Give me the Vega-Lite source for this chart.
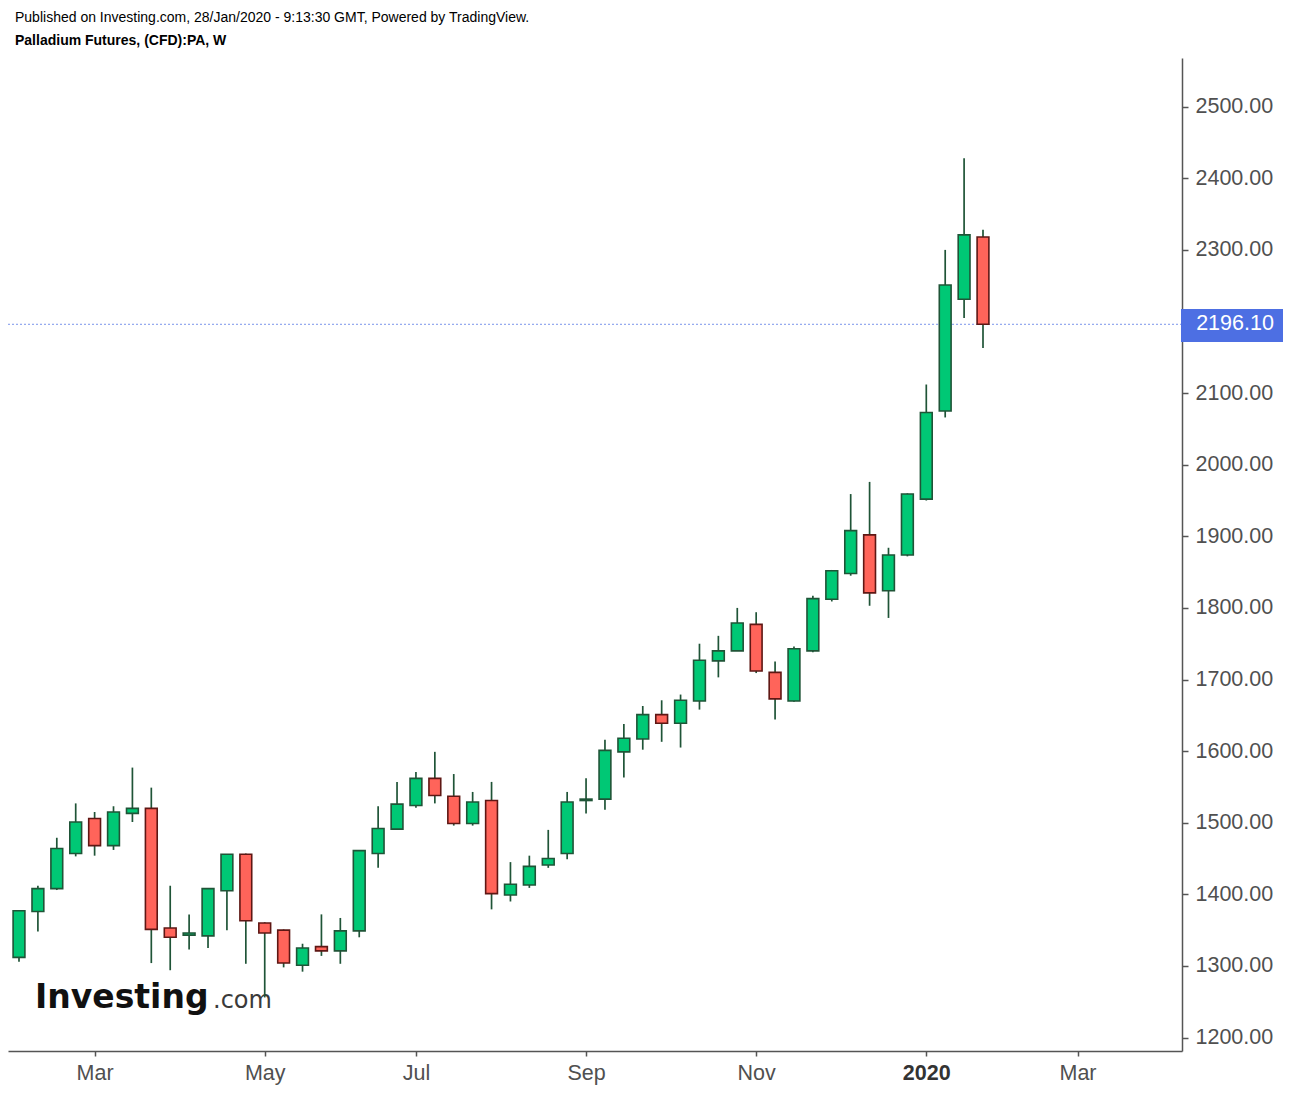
{
  "$schema": "https://vega.github.io/schema/vega-lite/v6.json",
  "autosize": "none",
  "width": 1174,
  "height": 993,
  "padding": {"left": 8, "top": 58, "right": 108, "bottom": 43},
  "background": "#ffffff",
  "config": {"view": {"stroke": null}, "axis": {"grid": false}},
  "title": {
    "text": "Published on Investing.com, 28/Jan/2020 - 9:13:30 GMT, Powered by TradingView.",
    "subtitle": "Palladium Futures, (CFD):PA, W",
    "anchor": "start",
    "frame": "group",
    "font": "Liberation Sans",
    "fontSize": 14,
    "fontWeight": "normal",
    "color": "#000000",
    "subtitleFont": "Liberation Sans",
    "subtitleFontSize": 14,
    "subtitleFontWeight": "bold",
    "subtitleColor": "#000000",
    "subtitlePadding": 9,
    "offset": 10,
    "dx": 7
  },
  "datasets": {
    "candles": [
      {"d": "2019-02-04", "o": 1312, "h": 1378, "l": 1306, "c": 1377},
      {"d": "2019-02-11", "o": 1376, "h": 1412, "l": 1348, "c": 1408},
      {"d": "2019-02-18", "o": 1408, "h": 1479, "l": 1406, "c": 1464},
      {"d": "2019-02-25", "o": 1457, "h": 1527, "l": 1453, "c": 1501},
      {"d": "2019-03-04", "o": 1506, "h": 1515, "l": 1454, "c": 1468},
      {"d": "2019-03-11", "o": 1468, "h": 1523, "l": 1462, "c": 1515},
      {"d": "2019-03-18", "o": 1513, "h": 1577, "l": 1501, "c": 1520},
      {"d": "2019-03-25", "o": 1520, "h": 1549, "l": 1304, "c": 1351},
      {"d": "2019-04-01", "o": 1353, "h": 1412, "l": 1294, "c": 1340},
      {"d": "2019-04-08", "o": 1343, "h": 1372, "l": 1323, "c": 1346},
      {"d": "2019-04-15", "o": 1342, "h": 1409, "l": 1325, "c": 1408},
      {"d": "2019-04-22", "o": 1405, "h": 1456, "l": 1350, "c": 1456},
      {"d": "2019-04-29", "o": 1456, "h": 1457, "l": 1303, "c": 1363},
      {"d": "2019-05-06", "o": 1360, "h": 1361, "l": 1256, "c": 1346},
      {"d": "2019-05-13", "o": 1350, "h": 1351, "l": 1298, "c": 1304},
      {"d": "2019-05-20", "o": 1301, "h": 1331, "l": 1292, "c": 1325},
      {"d": "2019-05-27", "o": 1327, "h": 1372, "l": 1314, "c": 1321},
      {"d": "2019-06-03", "o": 1321, "h": 1367, "l": 1303, "c": 1349},
      {"d": "2019-06-10", "o": 1349, "h": 1461, "l": 1340, "c": 1461},
      {"d": "2019-06-17", "o": 1457, "h": 1523, "l": 1437, "c": 1492},
      {"d": "2019-06-24", "o": 1491, "h": 1557, "l": 1490, "c": 1526},
      {"d": "2019-07-01", "o": 1524, "h": 1571, "l": 1521, "c": 1562},
      {"d": "2019-07-08", "o": 1562, "h": 1599, "l": 1527, "c": 1538},
      {"d": "2019-07-15", "o": 1537, "h": 1568, "l": 1496, "c": 1499},
      {"d": "2019-07-22", "o": 1499, "h": 1543, "l": 1496, "c": 1529},
      {"d": "2019-07-29", "o": 1531, "h": 1557, "l": 1379, "c": 1401},
      {"d": "2019-08-05", "o": 1399, "h": 1445, "l": 1390, "c": 1414},
      {"d": "2019-08-12", "o": 1413, "h": 1454, "l": 1409, "c": 1439},
      {"d": "2019-08-19", "o": 1441, "h": 1490, "l": 1437, "c": 1450},
      {"d": "2019-08-26", "o": 1457, "h": 1543, "l": 1449, "c": 1529},
      {"d": "2019-09-02", "o": 1531, "h": 1562, "l": 1513, "c": 1533},
      {"d": "2019-09-09", "o": 1533, "h": 1616, "l": 1518, "c": 1601},
      {"d": "2019-09-16", "o": 1599, "h": 1638, "l": 1563, "c": 1618},
      {"d": "2019-09-23", "o": 1617, "h": 1663, "l": 1602, "c": 1651},
      {"d": "2019-09-30", "o": 1651, "h": 1671, "l": 1613, "c": 1639},
      {"d": "2019-10-07", "o": 1639, "h": 1679, "l": 1605, "c": 1671},
      {"d": "2019-10-14", "o": 1670, "h": 1750, "l": 1658, "c": 1727},
      {"d": "2019-10-21", "o": 1726, "h": 1761, "l": 1703, "c": 1740},
      {"d": "2019-10-28", "o": 1740, "h": 1800, "l": 1740, "c": 1779},
      {"d": "2019-11-04", "o": 1777, "h": 1794, "l": 1709, "c": 1712},
      {"d": "2019-11-11", "o": 1710, "h": 1725, "l": 1644, "c": 1673},
      {"d": "2019-11-18", "o": 1670, "h": 1746, "l": 1669, "c": 1743},
      {"d": "2019-11-25", "o": 1740, "h": 1817, "l": 1738, "c": 1813},
      {"d": "2019-12-02", "o": 1812, "h": 1853, "l": 1809, "c": 1852},
      {"d": "2019-12-09", "o": 1848, "h": 1959, "l": 1845, "c": 1908},
      {"d": "2019-12-16", "o": 1902, "h": 1976, "l": 1803, "c": 1821},
      {"d": "2019-12-23", "o": 1824, "h": 1884, "l": 1786, "c": 1874},
      {"d": "2019-12-30", "o": 1874, "h": 1960, "l": 1872, "c": 1959},
      {"d": "2020-01-06", "o": 1952, "h": 2112, "l": 1950, "c": 2073},
      {"d": "2020-01-13", "o": 2075, "h": 2300, "l": 2066, "c": 2251},
      {"d": "2020-01-20", "o": 2231, "h": 2428, "l": 2205, "c": 2321},
      {"d": "2020-01-27", "o": 2318, "h": 2328, "l": 2163, "c": 2196.1}
    ],
    "one": [{"k": 1}]
  },
  "layer": [
    {
      "data": {"name": "one"},
      "mark": {"type": "text", "font": "DejaVu Sans", "fontWeight": "bold", "fontSize": 33, "align": "left", "baseline": "alphabetic", "color": "#111111"},
      "encoding": {
        "x": {"datum": 1549750352000, "type": "temporal"},
        "y": {"datum": 1241.7, "type": "quantitative"},
        "text": {"value": "Investing"}
      }
    },
    {
      "data": {"name": "one"},
      "mark": {"type": "text", "font": "DejaVu Sans", "fontWeight": "normal", "fontSize": 24, "align": "left", "baseline": "alphabetic", "color": "#3a3a3a"},
      "encoding": {
        "x": {"datum": 1555445818000, "type": "temporal"},
        "y": {"datum": 1241.7, "type": "quantitative"},
        "text": {"value": ".com"}
      }
    },
    {
      "data": {"name": "one"},
      "mark": {"type": "rule", "color": "#4d6fe3", "strokeDash": [2, 2], "strokeWidth": 1, "opacity": 0.75},
      "encoding": {
        "y": {"datum": 2196.1, "type": "quantitative"}
      }
    },
    {
      "data": {"name": "candles"},
      "mark": {"type": "rule", "color": "#1f5437", "strokeWidth": 1.7},
      "encoding": {
        "x": {
          "field": "d",
          "type": "temporal",
          "scale": {"type": "utc", "domain": [1548886440000, 1586450534400], "padding": 0, "nice": false},
          "axis": {
            "title": null,
            "orient": "bottom",
            "values": [
              {"year": 2019, "month": "mar", "date": 4, "utc": true},
              {"year": 2019, "month": "may", "date": 6, "utc": true},
              {"year": 2019, "month": "jul", "date": 1, "utc": true},
              {"year": 2019, "month": "sep", "date": 2, "utc": true},
              {"year": 2019, "month": "nov", "date": 4, "utc": true},
              {"year": 2020, "month": "jan", "date": 6, "utc": true},
              {"year": 2020, "month": "mar", "date": 2, "utc": true}
            ],
            "labelExpr": "utcmonth(datum.value) == 0 ? utcFormat(datum.value, '%Y') : utcFormat(datum.value, '%b')",
            "labelFont": "Liberation Sans",
            "labelFontSize": 21.5,
            "labelColor": {"condition": {"test": "utcmonth(datum.value) == 0", "value": "#333333"}, "value": "#505050"},
            "labelFontWeight": {"condition": {"test": "utcmonth(datum.value) == 0", "value": "bold"}, "value": "normal"},
            "labelPadding": 6,
            "labelFlush": false,
            "labelOverlap": false,
            "tickSize": 5,
            "tickColor": "#555555",
            "tickWidth": 1.5,
            "domainColor": "#555555",
            "domainWidth": 1.5
          }
        },
        "y": {
          "field": "l",
          "type": "quantitative",
          "scale": {"domain": [1181.2, 2568], "zero": false, "nice": false, "padding": 0},
          "axis": {
            "title": null,
            "orient": "right",
            "values": [1200, 1300, 1400, 1500, 1600, 1700, 1800, 1900, 2000, 2100, 2200, 2300, 2400, 2500],
            "format": ".2f",
            "labelFont": "Liberation Sans",
            "labelFontSize": 21.5,
            "labelColor": "#505050",
            "labelPadding": 7,
            "tickSize": 6,
            "tickColor": "#555555",
            "tickWidth": 1.5,
            "domainColor": "#555555",
            "domainWidth": 1.5
          }
        },
        "y2": {"field": "h"}
      }
    },
    {
      "data": {"name": "candles"},
      "mark": {"type": "bar", "size": 11.8, "strokeWidth": 1.6},
      "encoding": {
        "x": {"field": "d", "type": "temporal"},
        "y": {"field": "o", "type": "quantitative"},
        "y2": {"field": "c"},
        "fill": {"condition": {"test": "datum.c >= datum.o", "value": "#00c875"}, "value": "#ff645a"},
        "stroke": {"condition": {"test": "datum.c >= datum.o", "value": "#1f5437"}, "value": "#5e1714"}
      }
    },
    {
      "data": {"name": "one"},
      "mark": {"type": "rect", "color": "#4d6fe3", "clip": false},
      "encoding": {
        "x": {"datum": 1586418537400, "type": "temporal"},
        "x2": {"datum": 1589682231400},
        "y": {"datum": 2171.4, "type": "quantitative"},
        "y2": {"datum": 2217.5}
      }
    },
    {
      "data": {"name": "one"},
      "mark": {"type": "text", "font": "Liberation Sans", "fontSize": 21.5, "align": "center", "baseline": "middle", "color": "#ffffff", "clip": false},
      "encoding": {
        "x": {"datum": 1588146375400, "type": "temporal"},
        "y": {"datum": 2196.1, "type": "quantitative"},
        "text": {"value": "2196.10"}
      }
    }
  ]
}
